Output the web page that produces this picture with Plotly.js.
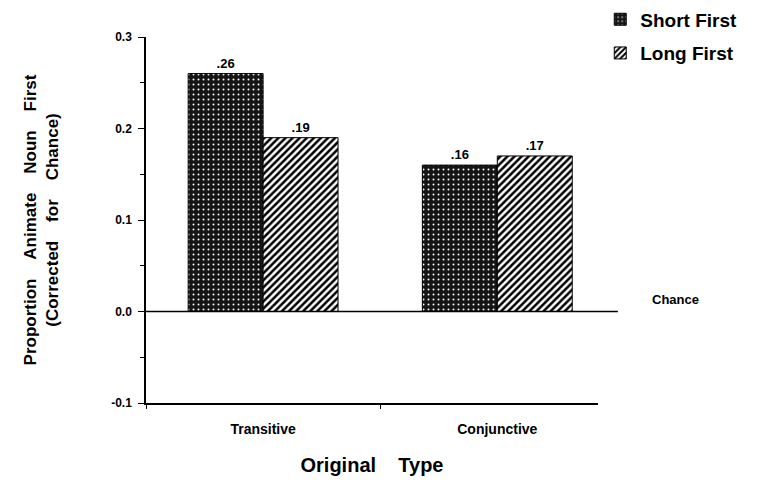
<!DOCTYPE html>
<html><head><meta charset="utf-8">
<script src="https://cdn.plot.ly/plotly-3.0.1.min.js"></script>
<style>body{margin:0;background:#fff}#c{width:783px;height:487px}</style>
</head><body><div id="c"></div>
<script>
const categories = ["Transitive", "Conjunctive"];
const shortFirst = [0.26, 0.16];
const longFirst = [0.19, 0.17];
const shortLabels = [".26", ".16"];
const longLabels = [".19", ".17"];
const seriesNames = ["Short First", "Long First"];

const F = "Liberation Sans, Arial, sans-serif";
const S = "&nbsp;&nbsp;&nbsp;&nbsp;";
const traces = [
  {type:"bar", name:seriesNames[0], legendgroup:"a", x:categories, y:shortFirst, text:shortLabels,
   textposition:"outside", cliponaxis:false,
   textfont:{family:F, size:13, weight:"bold", color:"#000"},
   marker:{color:"#1c1c1c", line:{color:"#000", width:1},
     pattern:{shape:".", fgcolor:"#ffffff", bgcolor:"#151515", size:5, solidity:0.12}}},
  {type:"bar", name:seriesNames[1], legendgroup:"b", x:categories, y:longFirst, text:longLabels,
   textposition:"outside", cliponaxis:false,
   textfont:{family:F, size:13, weight:"bold", color:"#000"},
   marker:{color:"#000", line:{color:"#000", width:1},
     pattern:{shape:"/", fgcolor:"#000", bgcolor:"#fff", size:5, solidity:0.5}}}
];
const layout = {
  width:783, height:487,
  margin:{l:146, r:185, t:37, b:84, autoexpand:false},
  paper_bgcolor:"#fff", plot_bgcolor:"#fff",
  font:{family:F, color:"#000"},
  barmode:"group", bargap:0.36, bargroupgap:0,
  showlegend:true,
  legend:{x:1.005, y:1.1, xanchor:"left", yanchor:"top", font:{family:F, size:19, weight:"bold"},
    bgcolor:"rgba(0,0,0,0)", tracegroupgap:6},
  xaxis:{type:"category", range:[-0.5, 1.43], showline:true, linecolor:"#000", linewidth:1.5,
    ticks:"outside", tickson:"boundaries", ticklen:4, tickcolor:"#000", ticklabelstandoff:12,
    tickfont:{family:F, size:14, weight:"bold"}, showgrid:false, zeroline:false,
    title:{text:"Original" + S + "Type", font:{family:F, size:20, weight:"bold"}, standoff:22}},
  yaxis:{range:[-0.1, 0.3], tickvals:[-0.1,0,0.1,0.2,0.3], ticktext:["-0.1","0.0","0.1","0.2","0.3"],
    showline:true, linecolor:"#000", linewidth:1.5, ticks:"outside", ticklen:6, tickcolor:"#000",
    ticklabelstandoff:4,
    minor:{dtick:0.05, ticks:"outside", ticklen:4, tickcolor:"#000", showgrid:false},
    tickfont:{family:F, size:12, weight:"bold"}, showgrid:false, zeroline:false,
    title:{text:"Proportion" + S + "Animate" + S + "Noun" + S + "First<br>(Corrected" + S + "for" + S + "Chance)",
      font:{family:F, size:17, weight:"bold"}, standoff:48}},
  shapes:[{type:"line", xref:"paper", yref:"y", x0:0, x1:1.044, y0:0, y1:0, line:{color:"#000", width:1.5}}],
  annotations:[{text:"Chance", xref:"paper", yref:"y", x:1.115, y:0.013, xanchor:"left", yanchor:"middle",
    showarrow:false, font:{family:F, size:13, weight:"bold"}}]
};
Plotly.newPlot("c", traces, layout, {displayModeBar:false});
</script></body></html>
